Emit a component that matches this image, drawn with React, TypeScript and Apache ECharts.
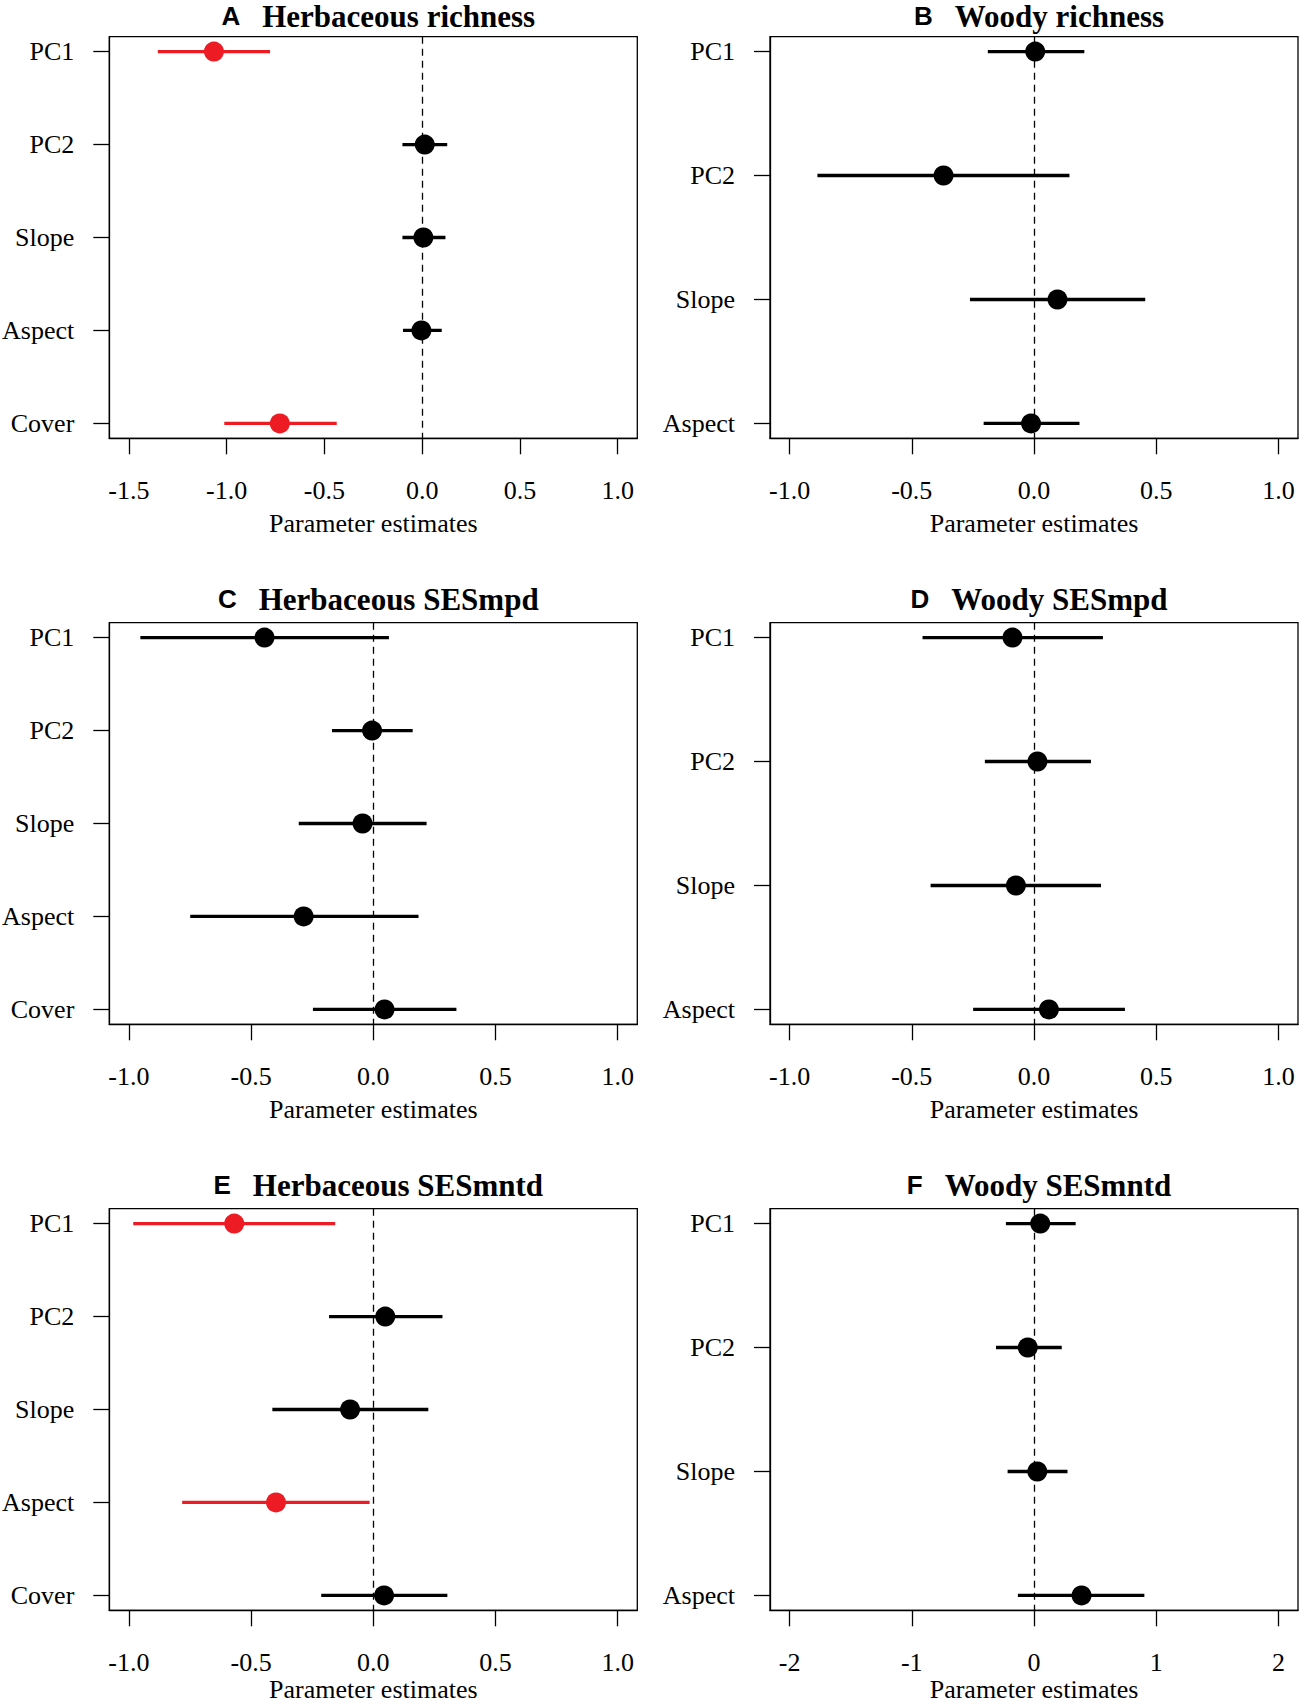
import React, { useEffect, useRef } from "react";
import * as echarts from "echarts";

const W = 1299;
const H = 1703;

// Categories (predictors)
const herbCats = ["PC1", "PC2", "Slope", "Aspect", "Cover"];
const woodyCats = ["PC1", "PC2", "Slope", "Aspect"];

// Tick labels
const ticksA = [-1.5, -1.0, -0.5, 0.0, 0.5, 1.0];
const ticksStd = [-1.0, -0.5, 0.0, 0.5, 1.0];
const ticksF = [-2, -1, 0, 1, 2];

// A Herbaceous richness
const aEst = [-1.065, 0.013, 0.006, -0.004, -0.728];
const aLo = [-1.352, -0.101, -0.101, -0.098, -1.012];
const aHi = [-0.778, 0.128, 0.119, 0.1, -0.437];
const aSig = [true, false, false, false, true];

// B Woody richness
const bEst = [0.005, -0.37, 0.096, -0.012];
const bLo = [-0.189, -0.886, -0.262, -0.206];
const bHi = [0.206, 0.145, 0.455, 0.186];
const bSig = [false, false, false, false];

// C Herbaceous SESmpd
const cEst = [-0.445, -0.005, -0.044, -0.285, 0.046];
const cLo = [-0.953, -0.169, -0.305, -0.749, -0.247];
const cHi = [0.064, 0.161, 0.218, 0.185, 0.34];
const cSig = [false, false, false, false, false];

// D Woody SESmpd
const dEst = [-0.088, 0.014, -0.074, 0.061];
const dLo = [-0.456, -0.201, -0.423, -0.249];
const dHi = [0.282, 0.233, 0.274, 0.372];
const dSig = [false, false, false, false];

// E Herbaceous SESmntd
const eEst = [-0.569, 0.049, -0.095, -0.398, 0.044];
const eLo = [-0.982, -0.181, -0.413, -0.782, -0.213];
const eHi = [-0.156, 0.283, 0.225, -0.015, 0.303];
const eSig = [true, false, false, true, false];

// F Woody SESmntd
const fEst = [0.051, -0.051, 0.027, 0.389];
const fLo = [-0.23, -0.311, -0.216, -0.132];
const fHi = [0.341, 0.227, 0.274, 0.903];
const fSig = [false, false, false, false];

const panels = [
  { letter: "A", title: "Herbaceous richness", cats: herbCats, est: aEst, lo: aLo, hi: aHi, sig: aSig, ticks: ticksA, xmin: -1.6, xmax: 1.1, dec: 1 },
  { letter: "B", title: "Woody richness", cats: woodyCats, est: bEst, lo: bLo, hi: bHi, sig: bSig, ticks: ticksStd, xmin: -1.08, xmax: 1.08, dec: 1 },
  { letter: "C", title: "Herbaceous SESmpd", cats: herbCats, est: cEst, lo: cLo, hi: cHi, sig: cSig, ticks: ticksStd, xmin: -1.08, xmax: 1.08, dec: 1 },
  { letter: "D", title: "Woody SESmpd", cats: woodyCats, est: dEst, lo: dLo, hi: dHi, sig: dSig, ticks: ticksStd, xmin: -1.08, xmax: 1.08, dec: 1 },
  { letter: "E", title: "Herbaceous SESmntd", cats: herbCats, est: eEst, lo: eLo, hi: eHi, sig: eSig, ticks: ticksStd, xmin: -1.08, xmax: 1.08, dec: 1 },
  { letter: "F", title: "Woody SESmntd", cats: woodyCats, est: fEst, lo: fLo, hi: fHi, sig: fSig, ticks: ticksF, xmin: -2.16, xmax: 2.16, dec: 0 },
];

const RED = "#ED1C24";
const BLACK = "#000000";
const SERIF = "'Liberation Serif', 'Times New Roman', serif";
const SANS = "'Liberation Sans', Arial, sans-serif";

const colLeft = [109.3, 770];
const rowTop = [36.7, 622.7, 1208.7];
const titleY = [16, 599.2, 1185.2];
const nameGaps = [85, 85, 75];
const gridW = 528;
const gridH = 401.6;

function buildOption() {
  const grid: any[] = [];
  const xAxis: any[] = [];
  const yAxis: any[] = [];
  const series: any[] = [];
  const graphic: any[] = [];

  panels.forEach((p, i) => {
    const col = i % 2;
    const row = Math.floor(i / 2);
    const n = p.cats.length;
    const ext = (n - 1) * 0.04;
    const yVals = p.cats.map((_, j) => j + 1);

    grid.push({
      left: colLeft[col],
      top: rowTop[row],
      width: gridW,
      height: gridH,
      show: true,
      borderColor: BLACK,
      borderWidth: 1.3,
      backgroundColor: "transparent",
      containLabel: false,
      outerBoundsMode: "none",
    });

    xAxis.push({
      type: "value",
      gridIndex: i,
      min: p.xmin,
      max: p.xmax,
      splitLine: { show: false },
      axisLine: { show: true, onZero: false, lineStyle: { color: BLACK, width: 1.3 } },
      axisTick: { show: true, inside: false, length: 16, customValues: p.ticks, lineStyle: { color: BLACK, width: 1.3 } },
      axisLabel: {
        show: true,
        customValues: p.ticks,
        formatter: (v: number) => v.toFixed(p.dec),
        fontFamily: SERIF,
        fontSize: 26,
        color: BLACK,
        margin: 52,
        verticalAlign: "middle",
      },
      name: "Parameter estimates",
      nameLocation: "middle",
      nameGap: nameGaps[row],
      nameTextStyle: { fontFamily: SERIF, fontSize: 26, lineHeight: 24, color: BLACK, verticalAlign: "middle" },
    });

    yAxis.push({
      type: "value",
      gridIndex: i,
      min: 1 - ext,
      max: n + ext,
      inverse: true,
      splitLine: { show: false },
      axisLine: { show: true, onZero: false, lineStyle: { color: BLACK, width: 1.3 } },
      axisTick: { show: true, inside: false, length: 16, customValues: yVals, lineStyle: { color: BLACK, width: 1.3 } },
      axisLabel: {
        show: true,
        customValues: yVals,
        formatter: (v: number) => p.cats[Math.round(v) - 1] ?? "",
        fontFamily: SERIF,
        fontSize: 26,
        color: BLACK,
        margin: 35,
        verticalAlign: "middle",
      },
    });

    series.push({
      type: "custom",
      xAxisIndex: i,
      yAxisIndex: i,
      silent: true,
      encode: { x: [0, 1], y: 2 },
      data: p.cats.map((_, j) => [p.lo[j], p.hi[j], j + 1, p.sig[j] ? 1 : 0]),
      renderItem: (_params: any, api: any) => {
        const a = api.coord([api.value(0), api.value(2)]);
        const b = api.coord([api.value(1), api.value(2)]);
        return {
          type: "line",
          shape: { x1: a[0], y1: a[1], x2: b[0], y2: b[1] },
          style: { stroke: api.value(3) ? RED : BLACK, lineWidth: 3.3 },
        };
      },
      z: 3,
    });

    series.push({
      type: "scatter",
      xAxisIndex: i,
      yAxisIndex: i,
      silent: true,
      symbol: "circle",
      symbolSize: 20,
      itemStyle: { opacity: 1 },
      data: p.cats.map((_, j) => ({
        value: [p.est[j], j + 1],
        itemStyle: { color: p.sig[j] ? RED : BLACK, opacity: 1 },
      })),
      markLine: {
        silent: true,
        symbol: ["none", "none"],
        label: { show: false },
        lineStyle: { color: BLACK, width: 1.3, type: [7, 5], opacity: 1 },
        data: [{ xAxis: 0 }],
        z: 2,
      },
      z: 4,
    });

    graphic.push({
      type: "text",
      x: colLeft[col] + gridW / 2 + 5,
      y: titleY[row],
      style: {
        text: `{l|${p.letter}}{t|${p.title}}`,
        align: "center",
        verticalAlign: "middle",
        fill: BLACK,
        rich: {
          l: { fontFamily: SANS, fontWeight: "bold", fontSize: 26, lineHeight: 24, fill: BLACK, padding: [0, 22, 0, 0] },
          t: { fontFamily: SERIF, fontWeight: "bold", fontSize: 31, lineHeight: 24, fill: BLACK },
        },
      },
    });
  });

  return {
    animation: false,
    backgroundColor: "#ffffff",
    grid,
    xAxis,
    yAxis,
    series,
    graphic,
  };
}

export default function App() {
  const ref = useRef<HTMLDivElement>(null);
  useEffect(() => {
    if (!ref.current) return;
    const chart = echarts.init(ref.current, undefined, { renderer: "svg", width: W, height: H });
    chart.setOption(buildOption() as any);
    return () => chart.dispose();
  }, []);
  return (
    <div
      ref={ref}
      style={{ position: "absolute", left: 0, top: 0, width: W, height: H, background: "#fff" }}
    />
  );
}
